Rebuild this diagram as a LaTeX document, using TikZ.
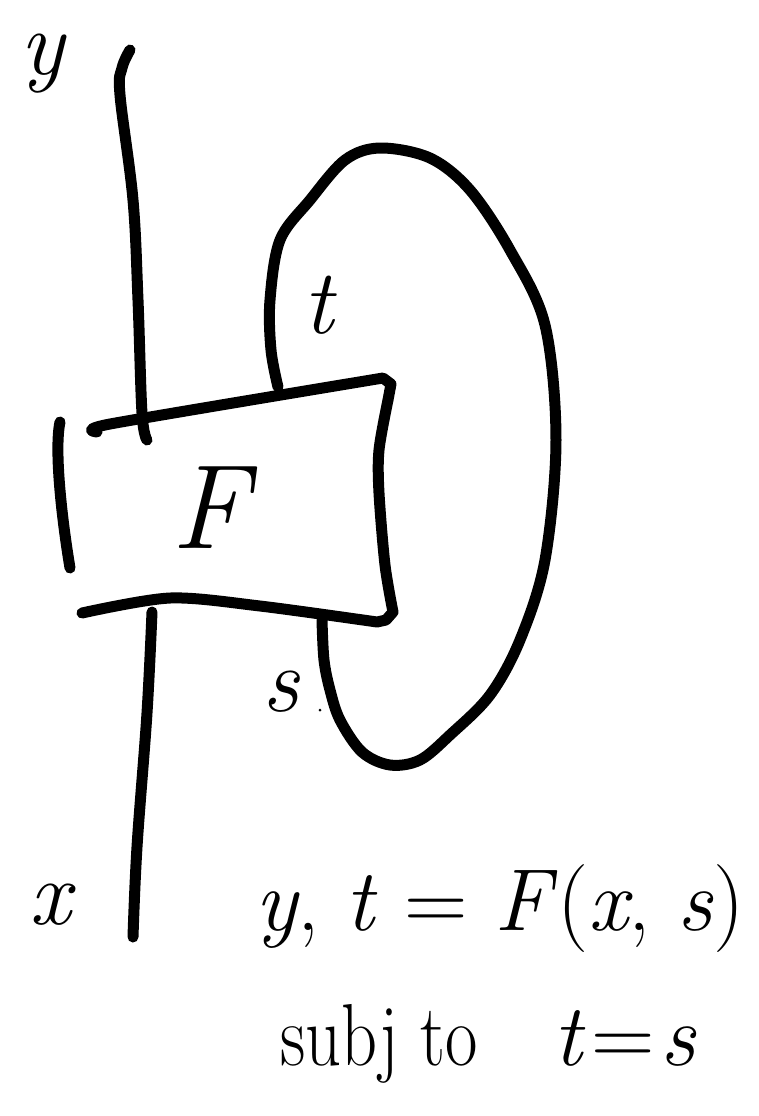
\documentclass[tikz,border=0pt]{standalone}
\usepackage{fontspec}
\usepackage{xcolor}
\usepackage{tikz}

\newcommand{\vr}[1]{\textit{#1}}

\begin{document}
\begin{tikzpicture}[x=0.5pt, y=-0.5pt, wire/.style={line width=5.5pt, line cap=round, line join=round}, lbl/.style={inner sep=0pt, font=\fontsize{46}{50}\selectfont\itshape}, eqn/.style={inner sep=0pt, anchor=base west, font=\fontsize{44}{48}\selectfont}]
\useasboundingbox (0,0) rectangle (759,1116);
% wire ends
\coordinate (ytop) at (130,50);
\coordinate (yend) at (147,440);
\coordinate (xtop) at (152,612);
\coordinate (xend) at (133,937);
\coordinate (tend) at (278,387);
\coordinate (send) at (322,620);
% labels
\node[lbl] (ylab) at (42,64) {y};
\node[lbl] (xlab) at (50,905) {x};
\node[lbl] (tlab) at (318,305) {t};
\node[lbl] (slab) at (281,692) {s};
\node[inner sep=0pt, font=\fontsize{60}{64}\selectfont\itshape] (flab) at (210,508) {F};
% box
\draw[wire] (60,422) .. controls (54,450) and (62,520) .. (70,568);
\draw[wire] plot[smooth, tension=0.4] coordinates {(97,432) (110,424) (383,378)} -- (391,384) -- plot[smooth, tension=0.5] coordinates {(388,400) (379,450) (379,493) (385,565) (393,612)} -- (386,620) -- plot[smooth, tension=0.5] coordinates {(377,622) (260,606) (170,598) (82,613)};
% wires
\draw[wire] plot[smooth, tension=0.6] coordinates {(ytop) (122,68) (120,95) (133,200) (138,300) (142,413) (yend)};
\draw[wire] plot[smooth, tension=0.6] coordinates {(xtop) (147,713) (137,847) (xend)};
\draw[wire] plot[smooth, tension=0.55] coordinates {(tend) (271,350) (270,300) (280,240) (310,200) (345,160) (380,148) (430,158) (470,190) (510,250) (545,325) (556,440) (545,560) (520,640) (490,695) (450,735) (420,760) (390,765) (362,752) (340,720) (330,690) (324,660) (send)};
\fill (320,710) circle (1.5);
% equations
\node[eqn] (eq) at (255,930) {\vr{y}, \vr{t} = \vr{F}(\vr{x}, \vr{s})};
\node[eqn] (subj) at (280,1065) {\scalebox{0.8}[1]{subj to}};
\node[eqn] (cons) at (553,1065) {\vr{t}\kern3pt=\kern3pt\vr{s}};
\end{tikzpicture}
\end{document}
